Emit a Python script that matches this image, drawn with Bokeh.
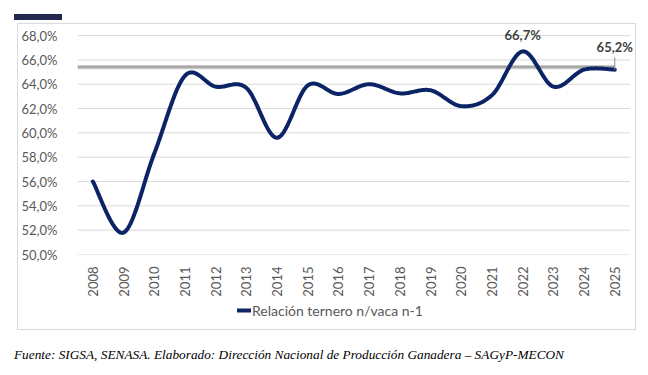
import numpy as np
from bokeh.plotting import figure
from bokeh.models import (FixedTicker, Label, Legend, LegendItem, Div)
from bokeh.layouts import column
from bokeh.embed import file_html
from bokeh.resources import INLINE

years = ["2008", "2009", "2010", "2011", "2012", "2013", "2014", "2015", "2016",
         "2017", "2018", "2019", "2020", "2021", "2022", "2023", "2024", "2025"]
ratio = [56.0, 51.8, 58.3, 64.7, 63.8, 63.7, 59.6, 63.9, 63.2,
         64.0, 63.25, 63.5, 62.2, 63.1, 66.7, 63.8, 65.2, 65.2]
ref_level = 65.4
y_ticks = [50, 52, 54, 56, 58, 60, 62, 64, 66, 68]
y_labels = ["50,0%", "52,0%", "54,0%", "56,0%", "58,0%", "60,0%", "62,0%",
            "64,0%", "66,0%", "68,0%"]
series_name = "Relación ternero n/vaca n-1"
source_text = "Fuente: SIGSA, SENASA. Elaborado: Dirección Nacional de Producción Ganadera – SAGyP-MECON"
label_years = ["2022", "2025"]
label_texts = ["66,7%", "65,2%"]

LINE = "#0b2466"
TXT = "#595959"
FONT = "Lato"
BORDER = "1px solid #d9d9d9"

# smooth (Excel-like Catmull-Rom / Bezier) rendering through data points
xi = np.arange(len(years), dtype=float)
yi = np.array(ratio, dtype=float)
xs, ys = [], []
n = len(xi)
for i in range(n - 1):
    p0 = np.array([xi[max(i - 1, 0)], yi[max(i - 1, 0)]])
    p1 = np.array([xi[i], yi[i]])
    p2 = np.array([xi[i + 1], yi[i + 1]])
    p3 = np.array([xi[min(i + 2, n - 1)], yi[min(i + 2, n - 1)]])
    c1 = p1 + (p2 - p0) / 6.0
    c2 = p2 - (p3 - p1) / 6.0
    t = np.linspace(0, 1, 30, endpoint=(i == n - 2))
    b = ((1 - t) ** 3)[:, None] * p1 + (3 * (1 - t) ** 2 * t)[:, None] * c1 + \
        (3 * (1 - t) * t ** 2)[:, None] * c2 + (t ** 3)[:, None] * p2
    xs.extend(b[:, 0].tolist())
    ys.extend(b[:, 1].tolist())

x_lo, x_hi = -0.5, len(years) - 0.5

p = figure(width=619, height=275, output_backend="svg", toolbar_location=None,
           x_range=(x_lo, x_hi + 0.24), y_range=(y_ticks[0], y_ticks[-1] + 0.5),
           min_border_left=59, min_border_right=0, min_border_top=5,
           min_border_bottom=44, margin=(3, 0, 0, 17),
           styles={"border-top": BORDER, "border-left": BORDER, "border-right": BORDER})
p.outline_line_color = None
p.background_fill_color = "white"
p.border_fill_color = "white"

# horizontal gridlines across the category area only
p.segment(x0=[x_lo] * len(y_ticks), x1=[x_hi] * len(y_ticks), y0=y_ticks, y1=y_ticks,
          line_color="#d9d9d9", line_width=1)

# reference line
p.line([x_lo, len(years) - 1], [ref_level, ref_level], line_color="#c8c8c8", line_width=4)
p.line([x_lo, len(years) - 1], [ref_level + 0.03, ref_level + 0.03], line_color="#a3a3a3", line_width=2)

r = p.line(xs, ys, line_color=LINE, line_width=4, line_cap="round", line_join="round")

# axes
p.xaxis.ticker = FixedTicker(ticks=list(range(len(years))))
p.xaxis.major_label_overrides = {i: y for i, y in enumerate(years)}
p.xaxis.major_label_orientation = np.pi / 2
p.yaxis.ticker = FixedTicker(ticks=y_ticks)
p.yaxis.major_label_overrides = {t: l for t, l in zip(y_ticks, y_labels)}
for ax in (p.xaxis, p.yaxis):
    ax.axis_line_color = None
    ax.major_tick_line_color = None
    ax.minor_tick_line_color = None
    ax.major_label_text_font = FONT
    ax.major_label_text_font_size = "13px"
    ax.major_label_text_color = TXT
p.yaxis.major_label_standoff = 14
p.xaxis.major_label_standoff = 6
p.xgrid.grid_line_color = None
p.ygrid.grid_line_color = None

# data labels
for yr, txt in zip(label_years, label_texts):
    idx = years.index(yr)
    off = 8 if yr == "2022" else 15
    p.add_layout(Label(x=idx, y=ratio[idx], text=txt,
                       y_offset=off, text_align="center", text_baseline="bottom",
                       text_font=FONT, text_font_style="bold", text_font_size="13px",
                       text_color="#404040"))
idx = years.index("2025")
p.segment(x0=[idx], y0=[ratio[idx]], x1=[idx], y1=[ratio[idx] + 1.0],
          line_color="#8c8c8c", line_width=1)

# legend strip (bottom part of the chart box); its frame aligns with the main frame
pl = figure(width=619, height=32, output_backend="svg", toolbar_location=None,
            x_range=(0, 1), y_range=(0, 1), x_axis_type=None, y_axis_type=None,
            min_border_left=59, min_border_right=0, min_border_top=0, min_border_bottom=10,
            margin=(0, 0, 0, 17),
            styles={"border-bottom": BORDER, "border-left": BORDER, "border-right": BORDER})
pl.outline_line_color = None
pl.xgrid.grid_line_color = None
pl.ygrid.grid_line_color = None
lr = pl.line(xs, ys, line_color=LINE, line_width=4, line_cap="round")
legend = Legend(items=[LegendItem(label=series_name, renderers=[lr])],
                orientation="horizontal", location=(160, 0))
legend.label_text_font = FONT
legend.label_text_font_size = "14px"
legend.label_text_color = TXT
legend.glyph_width = 14
legend.label_standoff = 1
legend.border_line_color = None
legend.background_fill_alpha = 0
legend.padding = 0
legend.margin = 0
pl.add_layout(legend)

bar = Div(text="", width=48, height=6, margin=(14, 0, 0, 14),
          styles={"background-color": "#23284f"})
src = Div(text='<span style="font-family: \'Liberation Serif\', \'Times New Roman\', serif; '
               'font-style: italic; font-size: 13.3px; color: #000; white-space: nowrap;">'
               + source_text + '</span>',
          width=630, height=20, margin=(16, 0, 0, 14))

layout = column(bar, p, pl, src, spacing=0)
open("out.html", "w").write(file_html(layout, INLINE))
